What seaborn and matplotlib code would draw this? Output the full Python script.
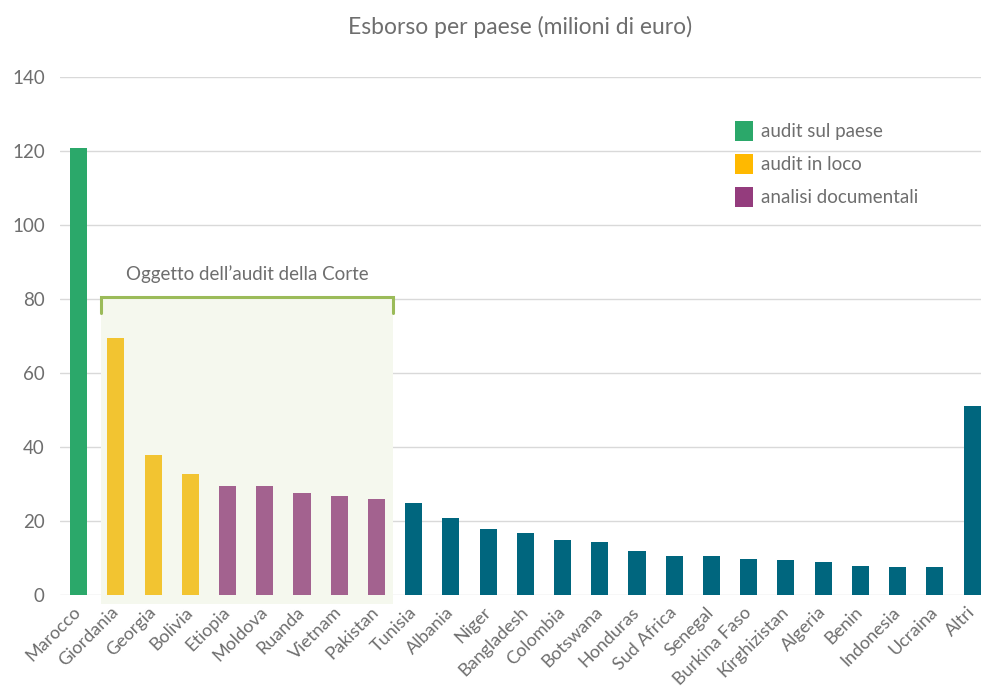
import matplotlib
matplotlib.use("Agg")
import matplotlib.pyplot as plt
from matplotlib.patches import Patch, Rectangle
import seaborn as sns
import pandas as pd

# Disbursement per country, million euro
paesi = ["Marocco", "Giordania", "Georgia", "Bolivia", "Etiopia", "Moldova",
         "Ruanda", "Vietnam", "Pakistan", "Tunisia", "Albania", "Niger",
         "Bangladesh", "Colombia", "Botswana", "Honduras", "Sud Africa",
         "Senegal", "Burkina Faso", "Kirghizistan", "Algeria", "Benin",
         "Indonesia", "Ucraina", "Altri"]
esborso = [120.8, 69.5, 37.8, 32.7, 29.5, 29.5, 27.6, 26.8, 25.9, 25.0,
           20.7, 17.8, 16.7, 14.8, 14.4, 11.8, 10.5, 10.5, 9.6, 9.4,
           8.9, 7.8, 7.5, 7.5, 51.1]
gruppo = (["audit sul paese"] + ["audit in loco"] * 3
          + ["analisi documentali"] * 5 + ["altri"] * 16)

gruppi_legenda = ["audit sul paese", "audit in loco", "analisi documentali"]
colori_barre = {"audit sul paese": "#2BA86A", "audit in loco": "#F2C431",
                "analisi documentali": "#A3628F", "altri": "#00667E"}
colori_legenda = ["#2BA86A", "#FFB900", "#943C7D"]

titolo = "Esborso per paese (milioni di euro)"
nota = "Oggetto dell\u2019audit della Corte"
y_ticks = [0, 20, 40, 60, 80, 100, 120, 140]

df = pd.DataFrame({"paese": paesi, "esborso": esborso, "gruppo": gruppo})

sns.set_theme(style="white")
plt.rcParams["font.family"] = ["Lato", "DejaVu Sans"]
testo = "#6E6E6E"

fig = plt.figure(figsize=(9.81, 6.87), dpi=100)
ax = fig.add_axes([60 / 981, 92 / 687, 921 / 981, 518 / 687])

sns.barplot(data=df, x="paese", y="esborso", hue="gruppo", palette=colori_barre,
            dodge=False, width=0.46, saturation=1, legend=False, ax=ax,
            zorder=3, linewidth=0)

# Highlighted group of audited countries
x0, x1 = 0.59, 8.45
ax.add_patch(Rectangle((x0, -2.4), x1 - x0, 80.3 + 2.4,
                       facecolor="#F5F8EE", edgecolor="none", zorder=1,
                       clip_on=False))
ax.plot([x0, x0, x1, x1], [76.3, 80.6, 80.6, 76.3],
        color="#9BBB59", lw=2.2, zorder=4, solid_joinstyle="miter")
ax.text((x0 + x1) / 2, 84.3, nota, ha="center", va="bottom", fontsize=13.5,
        color=testo)

ax.set_xlim(-0.5, 24.24)
ax.set_ylim(0, 140)
ax.set_yticks(y_ticks)
ax.yaxis.grid(True, color="#D9D9D9", lw=1.0, zorder=0)
ax.set_axisbelow(True)
for s in ax.spines.values():
    s.set_visible(False)
ax.set_xlabel("")
ax.set_ylabel("")
ax.tick_params(axis="y", length=0, labelsize=13.5, labelcolor=testo, pad=11)
ax.tick_params(axis="x", length=0, labelsize=13, labelcolor=testo, pad=10.5)
plt.setp(ax.get_xticklabels(), rotation=45, ha="right", va="center",
         rotation_mode="anchor")

maniglie = [Patch(facecolor=c, edgecolor="none", label=g)
            for g, c in zip(gruppi_legenda, colori_legenda)]
leg = fig.legend(handles=maniglie, loc="upper left",
                 bbox_to_anchor=(735 / 981, 1 - 121 / 687),
                 frameon=False, fontsize=13.5, handlelength=0.95,
                 handleheight=1.25, handletextpad=0.45, labelspacing=0.7,
                 borderaxespad=0, borderpad=0)
for t in leg.get_texts():
    t.set_color(testo)

fig.text(520 / 981, 1 - 27 / 687, titolo, ha="center", va="center",
         fontsize=16.5, color=testo)

fig.savefig("out.png", dpi=100, facecolor="white")
